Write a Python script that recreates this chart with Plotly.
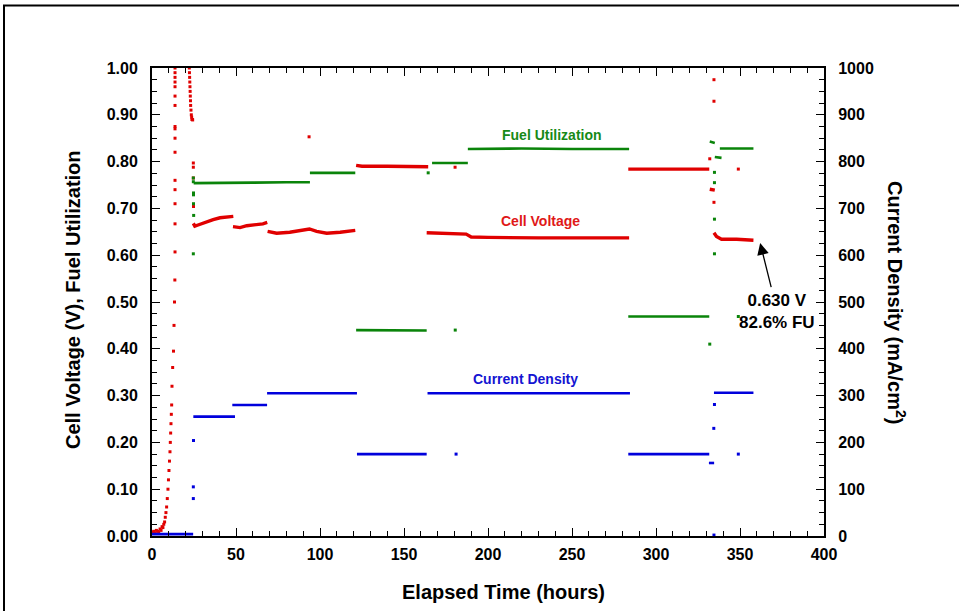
import plotly.graph_objects as go

# ---------------- data (hours, value) ----------------
# Cell voltage (V): continuous segments separated by None
VOLT_T = [24.6, 25.5, 27, 30, 33, 36.4, 40.5, 44, 48.4, None,
          48.2, 52.4, 56.4, 62.3, 66, 68.6, None,
          68.8, 74.2, 82, 90, 93.7, 98, 104, 112, 121, None,
          121.5, 125, 140, 155, 164.4, None,
          163.5, 170, 180, 187, 190, 200, 230, 260, 284, None,
          283.5, 300, 331.7, None,
          332, 335, None,
          334.5, 336, 339, 348, 358]
VOLT_V = [0.668, 0.662, 0.664, 0.668, 0.673, 0.676, 0.680, 0.682, 0.683, None,
          0.661, 0.659, 0.663, 0.665, 0.667, 0.670, None,
          0.651, 0.647, 0.649, 0.653, 0.656, 0.651, 0.647, 0.649, 0.653, None,
          0.792, 0.790, 0.790, 0.789, 0.789, None,
          0.648, 0.647, 0.646, 0.645, 0.639, 0.638, 0.637, 0.637, 0.637, None,
          0.784, 0.784, 0.784, None,
          0.741, 0.739, None,
          0.648, 0.640, 0.634, 0.634, 0.632]
# Cell voltage: scattered start-up / transient points
VOLT_DOT_T = [0.3, 1.0, 1.8, 2.6, 3.3, 4.0, 4.8, 5.4, 6.0, 6.5, 7.0, 7.5, 7.9,
              8.3, 8.7, 9.1, 9.5, 9.8, 10.1, 10.4, 10.7, 10.9, 11.1, 11.3, 11.5,
              11.7, 11.9, 12.3, 12.8, 13.1, 13.4, 13.6,
              13.7, 13.7, 13.7, 13.7, 13.7, 13.7, 13.7, 13.7, 13.7, 13.7, 13.7,
              13.7, 13.7, 13.7, 13.7, 13.7,
              22.2, 22.3, 22.4, 22.5, 22.6, 22.7, 22.8, 22.9, 23.0, 23.2, 23.4,
              23.6, 23.8, 24.0, 24.2,
              24.6, 24.6, 24.6, 24.7, 93.5, 180.4,
              334.5, 334.5, 332.0, 349.0, 334.5]
VOLT_DOT_V = [0.008, 0.010, 0.006, 0.012, 0.010, 0.009, 0.015, 0.012, 0.020, 0.018,
              0.025, 0.030, 0.040, 0.050, 0.062, 0.080, 0.100, 0.120, 0.140, 0.160,
              0.180, 0.200, 0.220, 0.240, 0.260, 0.280, 0.320, 0.360, 0.395, 0.450,
              0.500, 0.547,
              0.607, 0.667, 0.710, 0.740, 0.760, 0.820, 0.850, 0.870, 0.875,
              0.920, 0.940, 0.960, 0.970, 0.980, 0.990, 1.000,
              1.000, 0.990, 0.980, 0.970, 0.960, 0.950, 0.940, 0.930, 0.920,
              0.910, 0.900, 0.895, 0.890, 0.890, 0.889,
              0.797, 0.788, 0.765, 0.704, 0.853, 0.788,
              0.975, 0.929, 0.806, 0.784, 0.713]

# Fuel utilization (fraction)
FU_T = [24.8, 40, 60, 80, 94, None,
        94, 110, 121, None,
        121.5, 140, 163.5, None,
        166.7, 177, 188, None,
        188, 220, 250, 284, None,
        283.5, 310, 331.7, None,
        332, 335, None,
        335, 339, None,
        338, 358]
FU_V = [0.754, 0.754, 0.755, 0.756, 0.756, None,
        0.776, 0.776, 0.776, None,
        0.440, 0.439, 0.439, None,
        0.797, 0.797, 0.797, None,
        0.827, 0.828, 0.827, 0.827, None,
        0.469, 0.469, 0.469, None,
        0.843, 0.840, None,
        0.810, 0.808, None,
        0.828, 0.828]
FU_DOT_T = [24.6, 24.6, 24.7, 24.7, 24.7, 24.8, 24.6,
            164.4, 180.5, 334.8, 334.8, 334.8, 334.8, 332.0, 349.0]
FU_DOT_V = [0.765, 0.757, 0.733, 0.729, 0.710, 0.685, 0.603,
            0.776, 0.440, 0.777, 0.755, 0.677, 0.603, 0.410, 0.469]

# Current density (mA/cm2)
CD_T = [0, 24.5, None,
        24.6, 49.4, None,
        47.8, 68.5, None,
        68.5, 122, None,
        122, 163.5, None,
        164, 284.5, None,
        283.5, 331.7, None,
        331.5, 334.6, None,
        334.5, 358]
CD_V = [4, 4, None,
        255, 255, None,
        280, 280, None,
        305, 305, None,
        175, 175, None,
        305, 305, None,
        175, 175, None,
        156, 156, None,
        306, 306]
CD_DOT_T = [24.7, 24.6, 24.6, 334.8, 334.4, 349.0, 181.0, 334.5]
CD_DOT_V = [204, 105, 80, 281, 230, 175, 175, 2]

X_TICKS = [0, 50, 100, 150, 200, 250, 300, 350, 400]
Y_TICKS = [0.0, 0.1, 0.2, 0.3, 0.4, 0.5, 0.6, 0.7, 0.8, 0.9, 1.0]
Y2_TICKS = [0, 100, 200, 300, 400, 500, 600, 700, 800, 900, 1000]

RED = "#e00000"
GREEN = "#0a840a"
BLUE = "#0000dc"
FONT = "Liberation Sans, Arial, sans-serif"

fig = go.Figure()
fig.add_trace(go.Scatter(x=VOLT_T, y=VOLT_V, mode="lines",
                         line=dict(color=RED, width=3.4), connectgaps=False,
                         showlegend=False))
fig.add_trace(go.Scatter(x=VOLT_DOT_T, y=VOLT_DOT_V, mode="markers",
                         marker=dict(color=RED, size=3, symbol="square"),
                         showlegend=False))
fig.add_trace(go.Scatter(x=FU_T, y=FU_V, mode="lines",
                         line=dict(color=GREEN, width=2.6), connectgaps=False,
                         showlegend=False))
fig.add_trace(go.Scatter(x=FU_DOT_T, y=FU_DOT_V, mode="markers",
                         marker=dict(color=GREEN, size=3, symbol="square"),
                         showlegend=False))
fig.add_trace(go.Scatter(x=CD_T, y=CD_V, mode="lines", yaxis="y2",
                         line=dict(color=BLUE, width=2.6), connectgaps=False,
                         showlegend=False))
fig.add_trace(go.Scatter(x=CD_DOT_T, y=CD_DOT_V, mode="markers", yaxis="y2",
                         marker=dict(color=BLUE, size=3, symbol="square"),
                         showlegend=False))

tickfont = dict(family=FONT, size=16, color="black", weight="bold")

fig.update_layout(
    width=959, height=611,
    margin=dict(l=152, r=135, t=68, b=75, pad=0),
    paper_bgcolor="white", plot_bgcolor="white",
    showlegend=False,
    xaxis=dict(range=[0, 400], tickvals=X_TICKS, ticktext=[str(v) for v in X_TICKS],
               ticks="inside", ticklen=8, tickwidth=1.2, tickcolor="black",
               minor=dict(dtick=10, ticks="inside", ticklen=5, tickwidth=1, tickcolor="black"),
               showline=True, linecolor="black", linewidth=2, mirror="ticks",
               showgrid=False, zeroline=False, tickfont=tickfont, ticklabelstandoff=3),
    yaxis=dict(range=[0, 1], tickvals=Y_TICKS, ticktext=["%.2f" % v for v in Y_TICKS],
               ticks="inside", ticklen=8, tickwidth=1.2, tickcolor="black",
               minor=dict(dtick=0.025, ticks="inside", ticklen=5, tickwidth=1, tickcolor="black"),
               showline=True, linecolor="black", linewidth=2,
               showgrid=False, zeroline=False, tickfont=tickfont, ticklabelstandoff=9),
    yaxis2=dict(range=[0, 1000], tickvals=Y2_TICKS, ticktext=[str(v) for v in Y2_TICKS],
                overlaying="y", side="right",
                ticks="inside", ticklen=8, tickwidth=1.2, tickcolor="black",
                minor=dict(dtick=25, ticks="inside", ticklen=5, tickwidth=1, tickcolor="black"),
                showline=True, linecolor="black", linewidth=2,
                showgrid=False, zeroline=False, tickfont=tickfont, ticklabelstandoff=9),
)

def px_x(p):
    return (p - 152) / 672.0

def px_y(p):
    return (536 - p) / 468.0

title_font = dict(family=FONT, size=20, color="black", weight="bold")

def label(text, x, y, font, angle=0):
    return dict(text=text, x=px_x(x), y=px_y(y), xref="paper", yref="paper",
                showarrow=False, font=font, textangle=angle,
                xanchor="center", yanchor="middle")

ann = [
    label("Elapsed Time (hours)", 503, 592, title_font),
    label("Cell Voltage (V), Fuel Utilization", 73, 300, title_font, -90),
    label("Current Density (mA/cm<sup>2</sup>)", 897, 302, title_font, 90),
    label("Fuel Utilization", 552, 135,
          dict(family=FONT, size=14, color="#178a17", weight="bold")),
    label("Cell Voltage", 540, 221,
          dict(family=FONT, size=14, color="#e01818", weight="bold")),
    label("Current Density", 525, 379,
          dict(family=FONT, size=14, color="#1414d2", weight="bold")),
    # arrow annotation: text sits at the arrow tail, arrow tip on the final voltage
    dict(text="0.630 V<br>82.6% FU", x=362, y=0.626, xref="x", yref="y",
         showarrow=True, ax=17, ay=68, axref="pixel", ayref="pixel",
         arrowhead=2, arrowsize=1.8, arrowwidth=1.3, arrowcolor="black",
         align="center", standoff=0, startstandoff=2,
         font=dict(family=FONT, size=17, color="black", weight="bold")),
]
fig.update_layout(annotations=ann)

fig.add_shape(type="rect", xref="paper", yref="paper",
              x0=px_x(4), y0=px_y(700), x1=px_x(1100), y1=px_y(5.5),
              line=dict(color="black", width=2), fillcolor="rgba(0,0,0,0)", layer="above")

fig.write_html("out.html")
